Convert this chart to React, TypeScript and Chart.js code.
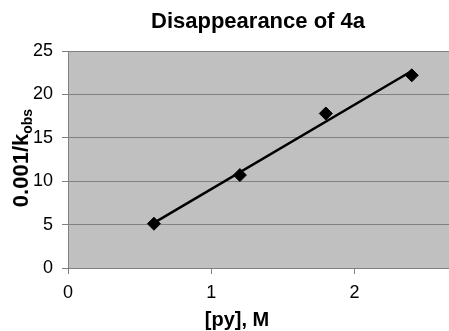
import React, { useEffect, useRef } from "react";
import { Chart, registerables } from "chart.js";

Chart.register(...registerables);

const pyConc = [0.6, 1.2, 1.8, 2.4];
const invKobs = [5.1, 10.7, 17.8, 22.2];
const trendX = [0.6, 2.4];
const trendY = [5.2, 22.7];
const xTicks = [0, 1, 2];
const yTicks = [0, 5, 10, 15, 20, 25];

const FONT = "'Liberation Sans', Arial, sans-serif";

const decorPlugin = {
  id: "decor",
  beforeDraw(chart: any) {
    const { ctx, chartArea } = chart;
    ctx.save();
    ctx.fillStyle = "#c0c0c0";
    ctx.fillRect(chartArea.left, chartArea.top, chartArea.right - chartArea.left, chartArea.bottom - chartArea.top);
    ctx.restore();
  },
  afterDraw(chart: any) {
    const { ctx } = chart;
    ctx.save();
    ctx.fillStyle = "#000";
    ctx.textAlign = "center";
    ctx.textBaseline = "middle";
    ctx.font = `bold 22px ${FONT}`;
    ctx.fillText("Disappearance of 4a", 258, 22);
    ctx.font = `bold 20px ${FONT}`;
    ctx.fillText("[py], M", 237, 320);
    // y axis title with subscript
    ctx.translate(20, 158);
    ctx.rotate(-Math.PI / 2);
    ctx.textAlign = "left";
    ctx.textBaseline = "alphabetic";
    ctx.font = `bold 22px ${FONT}`;
    const main = "0.001/k";
    const wMain = ctx.measureText(main).width;
    ctx.font = `bold 14px ${FONT}`;
    const sub = "obs";
    const wSub = ctx.measureText(sub).width;
    const total = wMain + wSub;
    ctx.font = `bold 22px ${FONT}`;
    ctx.fillText(main, -total / 2, 8);
    ctx.font = `bold 14px ${FONT}`;
    ctx.fillText(sub, -total / 2 + wMain, 12);
    ctx.restore();
  },
};

export default function App() {
  const ref = useRef<HTMLCanvasElement | null>(null);
  useEffect(() => {
    document.body.style.margin = "0";
    const canvas = ref.current!;
    const chart = new Chart(canvas, {
      type: "scatter",
      data: {
        datasets: [
          {
            data: pyConc.map((x, i) => ({ x, y: invKobs[i] })),
            pointStyle: "rectRot",
            pointRadius: 6.5,
            backgroundColor: "#000",
            borderColor: "#000",
            borderWidth: 1,
            showLine: false,
          },
          {
            data: trendX.map((x, i) => ({ x, y: trendY[i] })),
            showLine: true,
            pointRadius: 0,
            borderColor: "#000",
            borderWidth: 2.5,
          },
        ],
      },
      options: {
        animation: false,
        responsive: false,
        layout: { autoPadding: false, padding: { top: 51, left: 0, right: 0, bottom: 0 } },
        plugins: { legend: { display: false }, tooltip: { enabled: false }, title: { display: false } },
        scales: {
          x: {
            type: "linear",
            min: 0,
            max: 2.66,
            afterBuildTicks: (s: any) => { s.ticks = xTicks.map((v) => ({ value: v })); },
            afterFit: (s: any) => { s.height = 63; s.paddingLeft = 0; s.paddingRight = 0; },
            grid: { drawOnChartArea: false, drawTicks: true, tickLength: 6, color: "#808080" },
            border: { color: "#808080", width: 1 },
            ticks: { color: "#000", font: { family: FONT, size: 18 }, padding: 8, maxRotation: 0 },
          },
          y: {
            type: "linear",
            min: 0,
            max: 25,
            afterBuildTicks: (s: any) => { s.ticks = yTicks.map((v) => ({ value: v })); },
            afterFit: (s: any) => { s.width = 68; s.paddingTop = 0; s.paddingBottom = 0; },
            grid: { color: "#808080", tickLength: 6 },
            border: { color: "#808080", width: 1 },
            ticks: { color: "#000", font: { family: FONT, size: 18 }, padding: 9 },
          },
        },
      },
      plugins: [decorPlugin],
    } as any);
    return () => chart.destroy();
  }, []);
  return <canvas ref={ref} width={449} height={331} style={{ display: "block" }} />;
}
